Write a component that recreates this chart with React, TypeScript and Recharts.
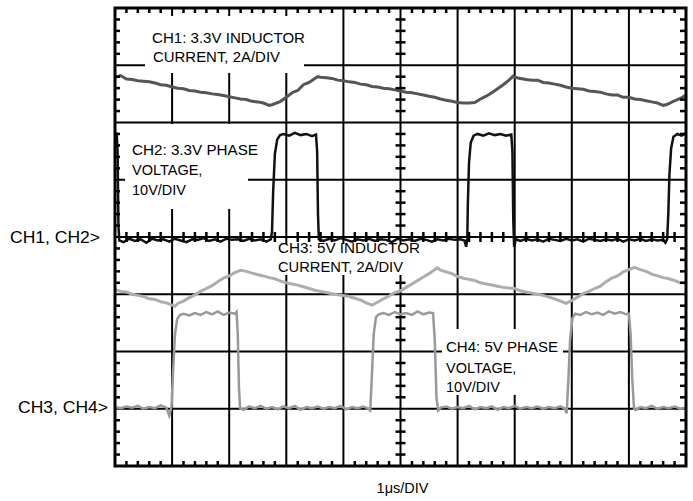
import { LineChart, Line, XAxis, YAxis, ReferenceLine } from "recharts";

// time in divisions (1us/DIV), amplitude in divisions from the centre line
const GRID_T = [1, 2, 3, 4, 5, 6, 7, 8, 9];
const GRID_V = [-3, -2, -1, 0, 1, 2, 3];

const CH1: [number, number][] = [
  [0, 2.79], [0.1, 2.82], [0.2, 2.76], [0.3, 2.75], [0.4, 2.73], [0.5, 2.72], [0.6, 2.71], [0.7, 2.69],
  [0.8, 2.66], [0.9, 2.65], [1.0, 2.62], [1.1, 2.6], [1.2, 2.59], [1.3, 2.56], [1.4, 2.55], [1.5, 2.53],
  [1.6, 2.52], [1.7, 2.5], [1.8, 2.49], [1.9, 2.47], [2.0, 2.45], [2.1, 2.43], [2.2, 2.41], [2.3, 2.4],
  [2.4, 2.37], [2.5, 2.36], [2.6, 2.34], [2.7, 2.3], [2.75, 2.31], [2.8, 2.33], [2.9, 2.37], [3.0, 2.44],
  [3.1, 2.52], [3.2, 2.56], [3.3, 2.66], [3.4, 2.7], [3.5, 2.77], [3.55, 2.8], [3.6, 2.79], [3.7, 2.78],
  [3.8, 2.77], [3.9, 2.74], [4.0, 2.73], [4.1, 2.71], [4.2, 2.7], [4.3, 2.67], [4.4, 2.66], [4.5, 2.63],
  [4.6, 2.62], [4.7, 2.6], [4.8, 2.59], [4.9, 2.57], [5.0, 2.55], [5.1, 2.53], [5.2, 2.52], [5.3, 2.5],
  [5.4, 2.48], [5.5, 2.46], [5.6, 2.44], [5.7, 2.41], [5.8, 2.39], [5.9, 2.37], [6.0, 2.35], [6.1, 2.34],
  [6.2, 2.34], [6.3, 2.35], [6.4, 2.41], [6.5, 2.46], [6.6, 2.52], [6.7, 2.59], [6.8, 2.66], [6.9, 2.74],
  [6.97, 2.81], [7.0, 2.79], [7.1, 2.77], [7.2, 2.75], [7.3, 2.74], [7.4, 2.74], [7.5, 2.7], [7.6, 2.69],
  [7.7, 2.67], [7.8, 2.65], [7.9, 2.62], [8.0, 2.6], [8.1, 2.59], [8.2, 2.58], [8.3, 2.55], [8.4, 2.54],
  [8.5, 2.53], [8.6, 2.5], [8.7, 2.48], [8.8, 2.48], [8.9, 2.44], [9.0, 2.44], [9.1, 2.41], [9.2, 2.4],
  [9.3, 2.38], [9.4, 2.36], [9.5, 2.34], [9.6, 2.3], [9.65, 2.31], [9.7, 2.33], [9.8, 2.38], [9.9, 2.42],
  [10, 2.48],
];

const CH2: [number, number][] = [
  [0, 1.79], [0.03, 1.8], [0.045, 1.5], [0.06, 0.2], [0.075, -0.06], [0.15, -0.09], [0.25, -0.03],
  [0.35, -0.07], [0.45, -0.04], [0.55, -0.1], [0.65, -0.03], [0.75, -0.06], [0.85, -0.04], [0.95, -0.08],
  [1.05, -0.03], [1.15, -0.06], [1.25, -0.09], [1.35, -0.04], [1.45, -0.05], [1.55, -0.02], [1.65, -0.07],
  [1.75, -0.04], [1.85, -0.08], [1.95, -0.03], [2.05, -0.05], [2.15, -0.04], [2.25, -0.07], [2.35, -0.03],
  [2.45, -0.06], [2.55, -0.04], [2.65, -0.08], [2.73, -0.04],
  [2.75, 0.1], [2.77, 0.8], [2.8, 1.45], [2.84, 1.7], [2.89, 1.78], [2.95, 1.8], [3.05, 1.77], [3.15, 1.82],
  [3.25, 1.78], [3.35, 1.8], [3.45, 1.76], [3.52, 1.79], [3.54, 1.5], [3.555, 0.4], [3.57, -0.04],
  [3.65, -0.07], [3.75, -0.03], [3.85, -0.06], [3.95, -0.02], [4.05, -0.05], [4.15, -0.08], [4.25, -0.04],
  [4.35, -0.06], [4.45, -0.03], [4.55, -0.07], [4.65, -0.04], [4.75, -0.05], [4.85, -0.09], [4.95, -0.03],
  [5.05, -0.06], [5.15, -0.04], [5.25, -0.07], [5.35, -0.03], [5.45, -0.05], [5.55, -0.08], [5.65, -0.04],
  [5.75, -0.06], [5.85, -0.03], [5.95, -0.05], [6.05, -0.04], [6.12, -0.06], [6.15, -0.17], [6.17, -0.02],
  [6.18, 0.6], [6.2, 1.3], [6.23, 1.65], [6.28, 1.77], [6.35, 1.8], [6.45, 1.77], [6.55, 1.81], [6.65, 1.78],
  [6.75, 1.8], [6.85, 1.77], [6.94, 1.79], [6.96, 1.5], [6.975, 0.3], [6.99, -0.17], [7.02, -0.04],
  [7.1, -0.07], [7.2, -0.03], [7.3, -0.06], [7.4, -0.04], [7.5, -0.08], [7.6, -0.03], [7.7, -0.05],
  [7.8, -0.07], [7.9, -0.03], [8.0, -0.06], [8.1, -0.04], [8.2, -0.08], [8.3, -0.03], [8.4, -0.05],
  [8.5, -0.07], [8.6, -0.04], [8.7, -0.06], [8.8, -0.03], [8.9, -0.08], [9.0, -0.04], [9.1, -0.06],
  [9.2, -0.03], [9.3, -0.07], [9.4, -0.04], [9.5, -0.06], [9.6, -0.05], [9.64, -0.1], [9.67, -0.04],
  [9.69, 0.4], [9.71, 1.1], [9.74, 1.55], [9.78, 1.75], [9.85, 1.8], [9.92, 1.77], [10, 1.81],
];

const CH3: [number, number][] = [
  [0, -0.92], [0.1, -0.95], [0.2, -0.96], [0.3, -1.0], [0.4, -1.02], [0.5, -1.04], [0.6, -1.08], [0.7, -1.09],
  [0.8, -1.13], [0.9, -1.15], [1.0, -1.19], [1.05, -1.21], [1.1, -1.16], [1.2, -1.12], [1.3, -1.06],
  [1.4, -1.01], [1.5, -0.95], [1.6, -0.9], [1.7, -0.85], [1.8, -0.78], [1.9, -0.72], [2.0, -0.68],
  [2.1, -0.62], [2.2, -0.58], [2.3, -0.6], [2.4, -0.63], [2.5, -0.66], [2.6, -0.68], [2.7, -0.71],
  [2.8, -0.73], [2.9, -0.77], [3.0, -0.8], [3.1, -0.82], [3.2, -0.84], [3.3, -0.87], [3.4, -0.9],
  [3.5, -0.93], [3.6, -0.95], [3.7, -0.97], [3.8, -0.99], [3.9, -1.01], [4.0, -1.02], [4.1, -1.04],
  [4.2, -1.07], [4.3, -1.1], [4.4, -1.15], [4.5, -1.19], [4.6, -1.14], [4.7, -1.08], [4.8, -1.03],
  [4.9, -0.97], [5.0, -0.94], [5.1, -0.88], [5.2, -0.82], [5.3, -0.76], [5.4, -0.7], [5.5, -0.64],
  [5.6, -0.57], [5.65, -0.54], [5.7, -0.58], [5.8, -0.61], [5.9, -0.64], [6.0, -0.69], [6.1, -0.72],
  [6.2, -0.74], [6.3, -0.76], [6.4, -0.8], [6.5, -0.82], [6.6, -0.84], [6.7, -0.86], [6.8, -0.88],
  [6.9, -0.89], [7.0, -0.9], [7.1, -0.94], [7.2, -0.96], [7.3, -0.98], [7.4, -1.0], [7.5, -1.02],
  [7.6, -1.05], [7.7, -1.08], [7.8, -1.12], [7.9, -1.16], [8.0, -1.11], [8.1, -1.05], [8.2, -0.99],
  [8.3, -0.95], [8.4, -0.9], [8.5, -0.86], [8.6, -0.78], [8.7, -0.72], [8.8, -0.68], [8.9, -0.61],
  [9.0, -0.57], [9.1, -0.53], [9.2, -0.57], [9.3, -0.6], [9.4, -0.65], [9.5, -0.68], [9.6, -0.71],
  [9.7, -0.73], [9.8, -0.76], [9.9, -0.8], [10, -0.79],
];

const CH4: [number, number][] = [
  [0, -2.97], [0.1, -2.99], [0.2, -2.96], [0.3, -2.98], [0.4, -2.95], [0.5, -3.0], [0.6, -2.97], [0.7, -2.99],
  [0.8, -2.94], [0.9, -2.98], [0.95, -3.12], [0.99, -2.96], [1.02, -2.3], [1.05, -1.7], [1.09, -1.43],
  [1.14, -1.36], [1.2, -1.34], [1.3, -1.37], [1.4, -1.33], [1.5, -1.36], [1.6, -1.31], [1.7, -1.35],
  [1.8, -1.3], [1.9, -1.36], [2.0, -1.32], [2.1, -1.34], [2.13, -1.31], [2.15, -1.7], [2.17, -2.6],
  [2.19, -2.99], [2.25, -3.02], [2.35, -2.96], [2.45, -2.99], [2.55, -2.95], [2.65, -3.0], [2.75, -2.97],
  [2.85, -3.01], [2.95, -2.96], [3.05, -2.99], [3.15, -2.95], [3.25, -3.02], [3.35, -2.97], [3.45, -2.99],
  [3.55, -2.96], [3.65, -3.0], [3.75, -2.97], [3.85, -2.99], [3.95, -2.95], [4.05, -3.01], [4.15, -2.97],
  [4.25, -2.99], [4.35, -2.96], [4.44, -3.0], [4.47, -3.03], [4.5, -2.4], [4.53, -1.7], [4.57, -1.4],
  [4.62, -1.35], [4.7, -1.33], [4.8, -1.36], [4.9, -1.31], [5.0, -1.35], [5.1, -1.33], [5.2, -1.36],
  [5.3, -1.3], [5.4, -1.35], [5.5, -1.32], [5.57, -1.33], [5.6, -1.8], [5.63, -2.8], [5.66, -3.03],
  [5.7, -2.98], [5.8, -2.96], [5.9, -3.0], [6.0, -2.97], [6.1, -2.99], [6.2, -2.95], [6.3, -3.01],
  [6.4, -2.97], [6.5, -2.99], [6.6, -2.96], [6.7, -3.02], [6.8, -2.97], [6.9, -2.99], [7.0, -2.95],
  [7.1, -3.0], [7.2, -2.97], [7.3, -2.99], [7.4, -2.96], [7.5, -3.0], [7.6, -2.97], [7.7, -2.99],
  [7.8, -2.96], [7.88, -3.0], [7.91, -3.08], [7.94, -2.5], [7.97, -1.8], [8.01, -1.42], [8.06, -1.34],
  [8.15, -1.36], [8.25, -1.31], [8.35, -1.35], [8.45, -1.32], [8.55, -1.36], [8.65, -1.3], [8.75, -1.34],
  [8.85, -1.31], [8.95, -1.35], [9.0, -1.34], [9.03, -1.7], [9.06, -2.5], [9.09, -3.0], [9.12, -3.02],
  [9.2, -2.97], [9.3, -2.99], [9.4, -2.95], [9.5, -3.0], [9.6, -2.97], [9.7, -2.99], [9.8, -2.96],
  [9.9, -3.0], [10, -2.98],
];

const toRows = (pts: [number, number][]) => pts.map(([t, v]) => ({ t, v }));

const W = 693;
const H = 501;
const PL = 115;
const PT = 8;
const PW = 571;
const PH = 458;
const FONT = "'Liberation Sans', Arial, Helvetica, sans-serif";

function Overlay() {
  const dx = PW / 50;
  const dy = PH / 40;
  const cx = PL + PW / 2;
  const cy = PT + PH / 2;
  const ticks: JSX.Element[] = [];
  for (let i = 1; i < 50; i++) {
    if (i % 5 === 0) continue;
    const x = PL + i * dx;
    ticks.push(<line key={"t" + i} x1={x} x2={x} y1={PT} y2={PT + 5} />);
    ticks.push(<line key={"b" + i} x1={x} x2={x} y1={PT + PH - 5} y2={PT + PH} />);
    ticks.push(<line key={"c" + i} x1={x} x2={x} y1={cy - 5} y2={cy + 5} />);
  }
  for (let j = 1; j < 40; j++) {
    if (j % 5 === 0) continue;
    const y = PT + j * dy;
    ticks.push(<line key={"l" + j} x1={PL} x2={PL + 5} y1={y} y2={y} />);
    ticks.push(<line key={"r" + j} x1={PL + PW - 6} x2={PL + PW} y1={y} y2={y} />);
    ticks.push(<line key={"m" + j} x1={cx - 5} x2={cx + 5} y1={y} y2={y} />);
  }
  const txt = { fontFamily: FONT, fontSize: 14.5, fill: "#000" };
  return (
    <svg width={W} height={H} style={{ position: "absolute", left: 0, top: 0, pointerEvents: "none" }}>
      <g stroke="#000" strokeWidth={2.5}>{ticks}</g>
      <rect x={PL} y={PT} width={PW} height={PH} fill="none" stroke="#000" strokeWidth={3} />
      <g fill="#fff">
        <rect x={145} y={16} width={159} height={57} />
        <rect x={125} y={124} width={123} height={85} />
        <rect x={273} y={244} width={147} height={31} />
        <rect x={442} y={329} width={121} height={66} />
      </g>
      <g style={txt}>
        <text x={152} y={43} textLength={153} lengthAdjust="spacingAndGlyphs">CH1: 3.3V INDUCTOR</text>
        <text x={153} y={62} textLength={127} lengthAdjust="spacingAndGlyphs">CURRENT, 2A/DIV</text>
        <text x={132} y={155} textLength={126} lengthAdjust="spacingAndGlyphs">CH2: 3.3V PHASE</text>
        <text x={132} y={175}>VOLTAGE,</text>
        <text x={132} y={195}>10V/DIV</text>
        <text x={278} y={253} textLength={142} lengthAdjust="spacingAndGlyphs">CH3: 5V INDUCTOR</text>
        <text x={278} y={272} textLength={125} lengthAdjust="spacingAndGlyphs">CURRENT, 2A/DIV</text>
        <text x={446} y={352} textLength={112} lengthAdjust="spacingAndGlyphs">CH4: 5V PHASE</text>
        <text x={446} y={373}>VOLTAGE,</text>
        <text x={446} y={392}>10V/DIV</text>
      </g>
      <g style={{ fontFamily: FONT, fontSize: 16, fill: "#000" }}>
        <text x={100} y={243} textAnchor="end" textLength={90} lengthAdjust="spacingAndGlyphs">CH1, CH2&gt;</text>
        <text x={108} y={413} textAnchor="end" textLength={90} lengthAdjust="spacingAndGlyphs">CH3, CH4&gt;</text>
      </g>
      <text x={cx + 2} y={493} textAnchor="middle" style={{ fontFamily: FONT, fontSize: 14.5, fill: "#000" }}>
        1μs/DIV
      </text>
    </svg>
  );
}

export default function App() {
  return (
    <div style={{ position: "absolute", left: 0, top: 0, width: W, height: H, background: "#fff" }}>
      <LineChart width={W} height={H} margin={{ top: PT, right: W - PL - PW, bottom: H - PT - PH, left: PL }}>
        <XAxis dataKey="t" type="number" domain={[0, 10]} hide allowDataOverflow />
        <YAxis type="number" domain={[-4, 4]} hide allowDataOverflow />
        {GRID_T.map((t) => (
          <ReferenceLine key={"gx" + t} x={t} stroke="#000" strokeWidth={2} />
        ))}
        {GRID_V.map((v) => (
          <ReferenceLine key={"gy" + v} y={v} stroke="#000" strokeWidth={2} />
        ))}
        <Line data={toRows(CH3)} dataKey="v" type="linear" stroke="#adadad" strokeWidth={3} dot={false} isAnimationActive={false} />
        <Line data={toRows(CH4)} dataKey="v" type="linear" stroke="#999999" strokeWidth={2.5} dot={false} isAnimationActive={false} />
        <Line data={toRows(CH1)} dataKey="v" type="linear" stroke="#555555" strokeWidth={3} dot={false} isAnimationActive={false} />
        <Line data={toRows(CH2)} dataKey="v" type="linear" stroke="#111111" strokeWidth={2.5} dot={false} isAnimationActive={false} />
      </LineChart>
      <Overlay />
    </div>
  );
}
